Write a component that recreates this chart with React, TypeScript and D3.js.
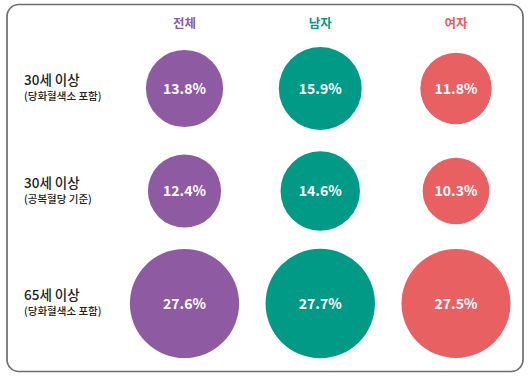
import React from "react";
import * as d3 from "d3";

const groups = ["전체", "남자", "여자"];
const rowTitles = ["30세 이상", "30세 이상", "65세 이상"];
const rowSubtitles = ["(당화혈색소 포함)", "(공복혈당 기준)", "(당화혈색소 포함)"];
const totalValues = [13.8, 12.4, 27.6];
const maleValues = [15.9, 14.6, 27.7];
const femaleValues = [11.8, 10.3, 27.5];
const groupColors = ["#8e5ba2", "#009a87", "#e96063"];
const headerColors = ["#8e5ba2", "#009a87", "#ec5a5c"];

const W = 530;
const H = 379;
const FONT = "'Noto Sans CJK KR', 'Noto Sans', sans-serif";

export default function App() {
  const series = [totalValues, maleValues, femaleValues];
  const x = d3.scalePoint<string>().domain(groups).range([184.5, 456]);
  const rowIdx = rowTitles.map((_, i) => String(i));
  const yCenters = [88.5, 191, 303.5];
  const y = d3.scaleOrdinal<string, number>().domain(rowIdx).range(yCenters);
  const r = d3.scaleSqrt().domain([0, 27.6]).range([0, 54.6]);

  return (
    <svg width={W} height={H} style={{ position: "absolute", left: 0, top: 0 }} fontFamily={FONT}>
      <rect x={7} y={4.5} width={516} height={367} rx={12} ry={12} fill="#fff" stroke="#6e6e6e" strokeWidth={1.7} />
      {groups.map((g, gi) => (
        <text key={g} x={x(g)} y={28} textAnchor="middle" fontSize={12.5} fontWeight={700} fill={headerColors[gi]}>
          {g}
        </text>
      ))}
      {rowIdx.map((ri, i) => (
        <g key={ri}>
          <text x={24} y={(y(ri) as number) - 3.5} fontSize={13.5} fontWeight={500} fill="#222">
            {rowTitles[i]}
          </text>
          <text x={24} y={(y(ri) as number) + 11.5} fontSize={10.5} fontWeight={500} fill="#222">
            {rowSubtitles[i]}
          </text>
        </g>
      ))}
      {groups.map((g, gi) =>
        series[gi].map((v, i) => (
          <g key={g + i}>
            <circle cx={x(g)} cy={y(String(i))} r={r(v)} fill={groupColors[gi]} />
            <text
              x={x(g)}
              y={(y(String(i)) as number) + 5}
              textAnchor="middle"
              fontSize={14}
              fontWeight={700}
              fill="#fff"
            >
              {v.toFixed(1)}%
            </text>
          </g>
        ))
      )}
    </svg>
  );
}
